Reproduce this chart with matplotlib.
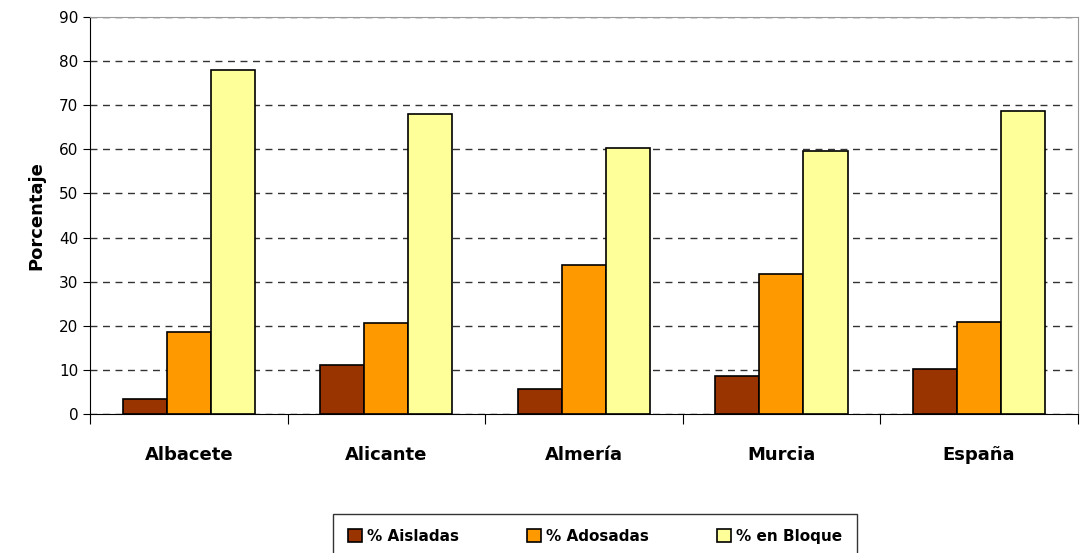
import numpy as np
import matplotlib.pyplot as plt

# Housing type share by province
provincias = ['Albacete', 'Alicante', 'Almería', 'Murcia', 'España']
aisladas = [3.3, 11.0, 5.7, 8.6, 10.1]
adosadas = [18.5, 20.6, 33.8, 31.7, 20.9]
bloque = [77.9, 68.0, 60.2, 59.6, 68.6]

series = [('% Aisladas', aisladas, '#993300'),
          ('% Adosadas', adosadas, '#FF9900'),
          ('% en Bloque', bloque, '#FFFF99')]

fig = plt.figure(figsize=(10.81, 5.53), dpi=100)
ax = fig.add_axes([0.0833, 0.2514, 0.9137, 0.7179])

x = np.arange(len(provincias))
w = 0.223
for i, (nombre, vals, color) in enumerate(series):
    ax.bar(x + (i - 1) * w, vals, w, color=color, edgecolor='black',
           linewidth=1.2, label=nombre, zorder=3)

ax.set_xlim(-0.5, len(provincias) - 0.5)
ax.set_ylim(0, 90)
ax.set_yticks(range(0, 91, 10))
ax.yaxis.grid(True, linestyle=(0, (5, 4)), color='#333333', linewidth=1)
ax.set_axisbelow(True)

# category boundaries as ticks, labels in between
ax.set_xticks(np.arange(-0.5, len(provincias), 1))
ax.set_xticklabels([])
ax.set_xticks(x, minor=True)
ax.set_xticklabels(provincias, minor=True, fontsize=13, fontweight='bold')
ax.tick_params(axis='x', which='minor', length=0, pad=23)
ax.tick_params(axis='x', which='major', length=7, direction='out')
ax.tick_params(axis='y', length=5, labelsize=11)

for s in ['top', 'right']:
    ax.spines[s].set_color('#999999')
for s in ['left', 'bottom']:
    ax.spines[s].set_color('black')

ax.set_ylabel('Porcentaje', fontsize=13, fontweight='bold', labelpad=10)

leg = ax.legend(loc='upper center', bbox_to_anchor=(0.5504, 0.085),
                bbox_transform=fig.transFigure, ncol=3, fancybox=False,
                edgecolor='#333333', framealpha=1, borderpad=1.0,
                handlelength=0.9, handleheight=0.9, handletextpad=0.3,
                columnspacing=4.5, prop={'size': 11, 'weight': 'bold'})
leg.get_frame().set_linewidth(1)

plt.savefig('out.png', dpi=100)
